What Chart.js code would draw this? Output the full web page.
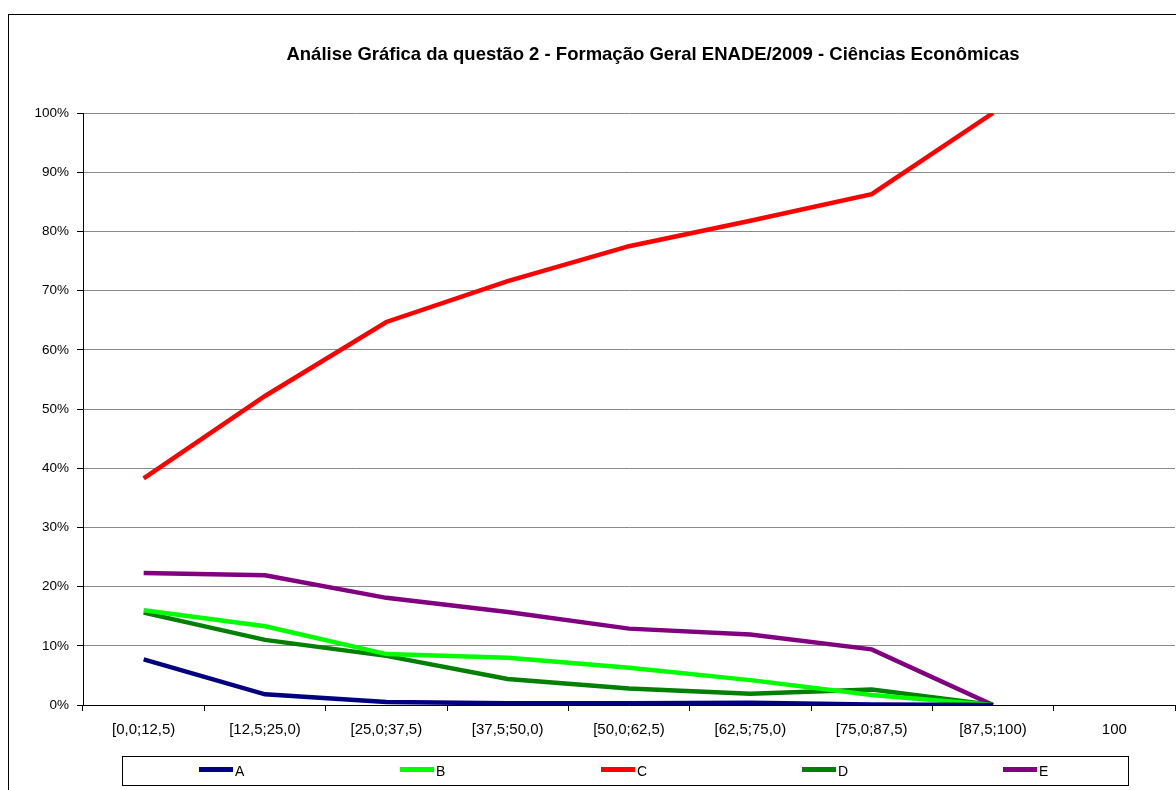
<!DOCTYPE html>
<html>
<head>
<meta charset="utf-8">
<script src="https://cdn.jsdelivr.net/npm/chart.js@4.4.1/dist/chart.umd.min.js"></script>
<style>
    html, body { margin: 0; padding: 0; background: #fff; }
    #wrap { width: 1176px; height: 790px; position: relative; }
</style>
</head>
<body>
<div id="wrap"><canvas id="chart"></canvas></div>
<script>
// Categories (score ranges)
const categories = ['[0,0;12,5)', '[12,5;25,0)', '[25,0;37,5)', '[37,5;50,0)', '[50,0;62,5)', '[62,5;75,0)', '[75,0;87,5)', '[87,5;100)', '100'];

// Share of answers per alternative (%)
const seriesA = [7.7, 1.8, 0.5, 0.3, 0.3, 0.4, 0.1, 0, null];
const seriesB = [16.0, 13.3, 8.6, 8.0, 6.3, 4.2, 1.7, 0, null];
const seriesC = [38.3, 52.2, 64.7, 71.6, 77.5, 81.8, 86.3, 100, null];
const seriesD = [15.6, 11.0, 8.3, 4.4, 2.8, 1.9, 2.6, 0, null];
const seriesE = [22.3, 21.9, 18.1, 15.7, 12.9, 11.9, 9.4, 0, null];

const seriesNames = ['A', 'B', 'C', 'D', 'E'];
const seriesColors = ['#000080', '#00FF00', '#FF0000', '#008000', '#800080'];

const yTicks = [0, 10, 20, 30, 40, 50, 60, 70, 80, 90, 100];

const chartTitle = 'Análise Gráfica da questão 2 - Formação Geral ENADE/2009 - Ciências Econômicas';
const FONT = 'Arial, "Liberation Sans", sans-serif';

// Frame, title and boxed legend like the spreadsheet original
const framePlugin = {
    id: 'frame',
    afterDraw(chart) {
        const ctx = chart.ctx;
        ctx.save();
        // outer chart border
        ctx.strokeStyle = '#000';
        ctx.lineWidth = 1;
        ctx.strokeRect(8.5, 14.5, 1200, 800);

        // title
        ctx.fillStyle = '#000';
        ctx.font = 'bold 18.5px ' + FONT;
        ctx.textAlign = 'center';
        ctx.textBaseline = 'middle';
        ctx.fillText(chartTitle, 653, 55);

        // legend box
        ctx.strokeRect(122.5, 756.5, 1006, 29);
        ctx.font = '14px ' + FONT;
        ctx.textAlign = 'left';
        chart.data.datasets.forEach((ds, i) => {
            const x = 199 + i * 201;
            ctx.strokeStyle = ds.borderColor;
            ctx.lineWidth = 5;
            ctx.beginPath();
            ctx.moveTo(x, 769.5);
            ctx.lineTo(x + 34, 769.5);
            ctx.stroke();
            ctx.fillStyle = '#000';
            ctx.fillText(ds.label, x + 36, 772);
        });
        ctx.restore();
    }
};

const allSeries = [seriesA, seriesB, seriesC, seriesD, seriesE];

const ctx = document.getElementById('chart').getContext('2d');
new Chart(ctx, {
    type: 'line',
    data: {
        labels: categories,
        datasets: allSeries.map((data, i) => ({
            label: seriesNames[i],
            data: data,
            borderColor: seriesColors[i],
            backgroundColor: seriesColors[i],
            borderWidth: 4.5,
            pointRadius: 0,
            tension: 0,
            fill: false,
            spanGaps: false
        }))
    },
    options: {
        responsive: true,
        maintainAspectRatio: false,
        animation: false,
        layout: {
            padding: { top: 113, left: 8, right: 1, bottom: 0 }
        },
        plugins: {
            legend: { display: false },
            title: { display: false },
            tooltip: { enabled: false }
        },
        scales: {
            x: {
                offset: true,
                afterFit: scale => { scale.height = 85; },
                grid: {
                    offset: true,
                    drawOnChartArea: false,
                    drawTicks: true,
                    tickLength: 6,
                    color: '#000'
                },
                border: { color: '#000', width: 1 },
                ticks: {
                    color: '#000',
                    font: { family: FONT, size: 15 },
                    padding: 10,
                    maxRotation: 0,
                    autoSkip: false
                }
            },
            y: {
                min: 0,
                max: 100,
                afterFit: scale => { scale.width = 75; },
                afterBuildTicks: scale => {
                    scale.ticks = yTicks.map(v => ({ value: v }));
                },
                grid: {
                    color: '#8a8a8a',
                    lineWidth: 1,
                    drawTicks: true,
                    tickLength: 6,
                    tickColor: '#000'
                },
                border: { color: '#000', width: 1 },
                ticks: {
                    color: '#000',
                    font: { family: FONT, size: 13.5 },
                    padding: 8,
                    callback: value => value + '%'
                }
            }
        }
    },
    plugins: [framePlugin]
});
</script>
</body>
</html>
